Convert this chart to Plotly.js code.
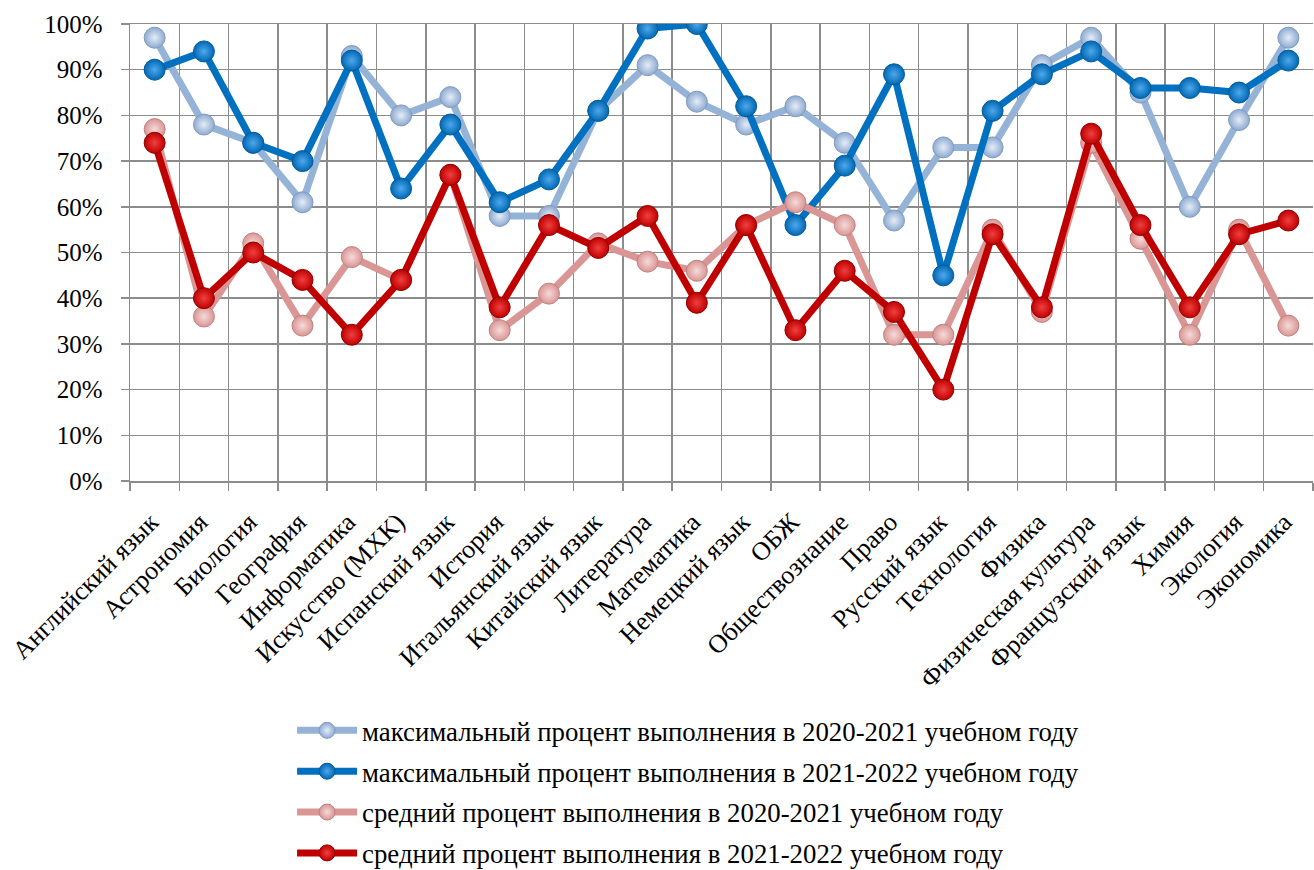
<!DOCTYPE html>
<html>
<head>
<meta charset="utf-8">
<script src="https://cdn.plot.ly/plotly-3.0.1.min.js"></script>
<style>html,body{margin:0;padding:0;background:#fff;}#chart{width:1314px;height:870px;}</style>
</head>
<body>
<div id="chart"></div>
<script>
const categories = ["Английский язык","Астрономия","Биология","География","Информатика","Искусство (МХК)","Испанский язык","История","Итальянский язык","Китайский язык","Литература","Математика","Немецкий язык","ОБЖ","Обществознание","Право","Русский язык","Технология","Физика","Физическая культура","Французский язык","Химия","Экология","Экономика"];
const max2021 = [0.97,0.78,0.74,0.61,0.93,0.80,0.84,0.58,0.58,0.81,0.91,0.83,0.78,0.82,0.74,0.57,0.73,0.73,0.91,0.97,0.85,0.60,0.79,0.97];
const max2122 = [0.90,0.94,0.74,0.70,0.92,0.64,0.78,0.61,0.66,0.81,0.99,1.00,0.82,0.56,0.69,0.89,0.45,0.81,0.89,0.94,0.86,0.86,0.85,0.92];
const avg2021 = [0.77,0.36,0.52,0.34,0.49,0.44,0.67,0.33,0.41,0.52,0.48,0.46,0.56,0.61,0.56,0.32,0.32,0.55,0.37,0.74,0.53,0.32,0.55,0.34];
const avg2122 = [0.74,0.40,0.50,0.44,0.32,0.44,0.67,0.38,0.56,0.51,0.58,0.39,0.56,0.33,0.46,0.37,0.20,0.54,0.38,0.76,0.56,0.38,0.54,0.57];
const seriesNames = [
  "максимальный процент выполнения в 2020-2021 учебном году",
  "максимальный процент выполнения в 2021-2022 учебном году",
  "средний процент выполнения в 2020-2021 учебном году",
  "средний процент выполнения в 2021-2022 учебном году"
];
const FONT = "Liberation Serif";

function mk(y, name, lineColor, markerColor, centerColor, edgeColor, grp){
  return {
    type:'scatter', mode:'lines+markers', x:categories, y:y, name:name,
    legendgroup:grp,
    line:{color:lineColor, width:7},
    marker:{size:21, color:markerColor, gradient:{type:'radial', color:centerColor},
            line:{color:edgeColor, width:1}},
    hoverinfo:'skip'
  };
}
const data = [
  mk(max2021, seriesNames[0], '#95B3D7', '#8EAAD0', '#E4EDF8', '#7F9BC0', 'a'),
  mk(max2122, seriesNames[1], '#0070C0', '#0068B4', '#4FA8EC', '#005A9A', 'b'),
  mk(avg2021, seriesNames[2], '#D99694', '#D99694', '#F6DADA', '#C08080', 'c'),
  mk(avg2122, seriesNames[3], '#C00000', '#C00000', '#F04040', '#8E0000', 'd')
];
const layout = {
  width:1314, height:870,
  margin:{l:130, r:1, t:24, b:389},
  paper_bgcolor:'#fff', plot_bgcolor:'#fff',
  font:{family:FONT, size:24, color:'#000'},
  showlegend:true,
  xaxis:{
    type:'category', range:[-0.5,23.5], tickson:'boundaries',
    showgrid:true, gridcolor:'#8C8C8C', gridwidth:1.5,
    ticks:'outside', ticklen:8, tickcolor:'#8C8C8C', tickwidth:1.5,
    showline:true, linecolor:'#8C8C8C', linewidth:1.5, mirror:true,
    tickangle:-45, ticklabelshift:-4, ticklabelstandoff:14,
    tickfont:{family:FONT, size:26, color:'#000'},
    fixedrange:true
  },
  yaxis:{
    range:[0,1], dtick:0.1, tickformat:'.0%',
    showgrid:true, gridcolor:'#8C8C8C', gridwidth:1.5,
    zeroline:false,
    ticks:'outside', ticklen:8, tickcolor:'#8C8C8C', tickwidth:1.5,
    showline:true, linecolor:'#8C8C8C', linewidth:1.5,
    ticklabelstandoff:13,
    tickfont:{family:FONT, size:25, color:'#000'},
    fixedrange:true
  },
  legend:{
    orientation:'v', x:0.137, xanchor:'left', xref:'paper',
    yref:'container', y:0.188, yanchor:'top',
    traceorder:'grouped', tracegroupgap:3, itemwidth:60,
    font:{family:FONT, size:26.8, color:'#000'},
    bgcolor:'rgba(0,0,0,0)'
  }
};
Plotly.newPlot('chart', data, layout, {displayModeBar:false, staticPlot:true});
</script>
</body>
</html>
